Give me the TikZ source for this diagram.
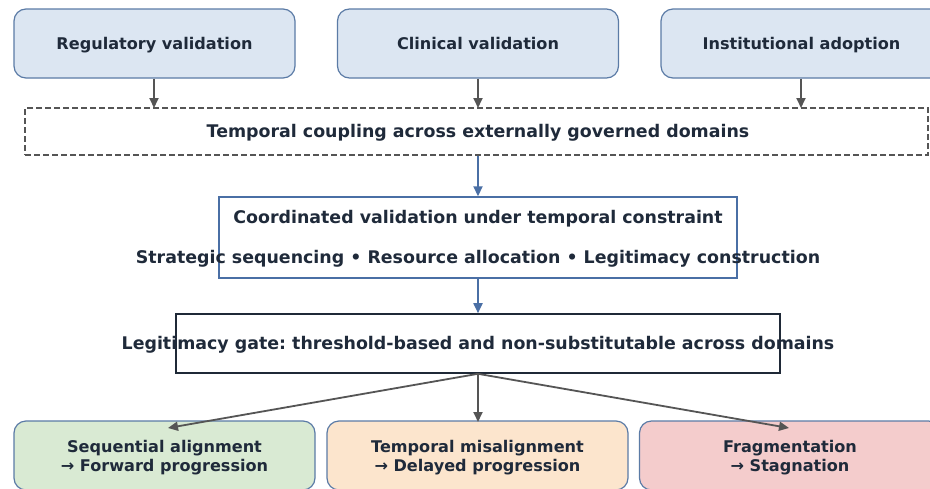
\documentclass[tikz,border=0pt]{standalone}
\usepackage{fontspec}
\setmainfont{DejaVu Sans}
\frenchspacing
\usetikzlibrary{arrows.meta}
\definecolor{txt}{HTML}{1F2A3A}
\definecolor{topfill}{HTML}{DCE6F2}
\definecolor{topedge}{HTML}{5B7BA6}
\definecolor{bluearr}{HTML}{4A6FA5}
\definecolor{grayarr}{HTML}{555555}
\definecolor{gfill}{HTML}{D9EAD3}
\definecolor{ofill}{HTML}{FCE5CD}
\definecolor{rfill}{HTML}{F4CCCC}
\definecolor{gateedge}{HTML}{1F2937}
\tikzset{
  lbl/.style={font=\bfseries\fontsize{16.1}{19}\selectfont, text=txt, align=center, inner sep=0pt},
  biglbl/.style={font=\bfseries\fontsize{17.4}{20}\selectfont, text=txt, inner sep=0pt, anchor=base},
  toplbl/.style={lbl, anchor=base},
  topbox/.style={draw=topedge, fill=topfill, line width=1.2pt, rounded corners=12pt, minimum width=281pt, minimum height=69pt, inner sep=0pt},
  botbox/.style={draw=topedge, line width=1.2pt, rounded corners=12pt, minimum width=301pt, minimum height=69pt, inner sep=0pt},
  garr/.style={draw=grayarr, line width=1.8pt, -{Triangle[length=10pt,width=9pt]}},
  barr/.style={draw=bluearr, line width=1.8pt, -{Triangle[length=10pt,width=9pt]}},
}
\begin{document}
\begin{tikzpicture}[x=1pt,y=-1pt]
\clip (0,0) rectangle (930,488);
\fill[white] (0,0) rectangle (930,488);
% top boxes
\node[topbox] (reg) at (154.5,43.5) {};
\node[topbox] (cli) at (478,43.5) {};
\node[topbox] (ins) at (801.5,43.5) {};
\node[toplbl] (regt) at (154.5,49.5) {Regulatory validation};
\node[toplbl] (clit) at (478,49.5) {Clinical validation};
\node[toplbl] (inst) at (801.5,49.5) {Institutional adoption};
% coupling
\node[draw=grayarr, dashed, dash pattern=on 6pt off 3pt, line width=1.3pt, minimum width=903pt, minimum height=47pt, inner sep=0pt] (cpl) at (476.5,131.5) {};
\node[biglbl] (cplt) at (478,137) {Temporal coupling across externally governed domains};
\coordinate (c1) at (154,108);
\coordinate (c2) at (478,108);
\coordinate (c3) at (801,108);
\draw[garr] (reg.south -| c1) -- (c1);
\draw[garr] (cli.south -| c2) -- (c2);
\draw[garr] (ins.south -| c3) -- (c3);
% coordinated
\node[draw=bluearr, line width=1.4pt, minimum width=518pt, minimum height=81pt, inner sep=0pt] (crd) at (478,237.5) {};
\node[biglbl] (crdt1) at (478,223.5) {Coordinated validation under temporal constraint};
\node[biglbl] (crdt2) at (478,263.5) {Strategic sequencing • Resource allocation • Legitimacy construction};
\draw[barr] (cpl.south -| crd.north) -- (crd.north);
% gate
\node[draw=gateedge, line width=1.6pt, minimum width=604pt, minimum height=59pt, inner sep=0pt] (gate) at (478,343.5) {};
\node[biglbl] (gatet) at (478,349.5) {Legitimacy gate: threshold-based and non-substitutable across domains};
\draw[barr] (crd.south) -- (gate.north);
% bottom
\node[botbox, fill=gfill] (b1) at (164.5,455.5) {};
\node[botbox, fill=ofill] (b2) at (477.5,455.5) {};
\node[botbox, fill=rfill] (b3) at (790,455.5) {};
\node[lbl] (b1t) at (164.5,457.5) {Sequential alignment\\→ Forward progression};
\node[lbl] (b2t) at (477.5,457.5) {Temporal misalignment\\→ Delayed progression};
\node[lbl] (b3t) at (790,457.5) {Fragmentation\\→ Stagnation};
\coordinate (e1) at (168,428);
\coordinate (e2) at (478,422);
\coordinate (e3) at (789,428);
\draw[garr] (gate.south) -- (e1);
\draw[garr] (gate.south) -- (e2);
\draw[garr] (gate.south) -- (e3);
\end{tikzpicture}
\end{document}
